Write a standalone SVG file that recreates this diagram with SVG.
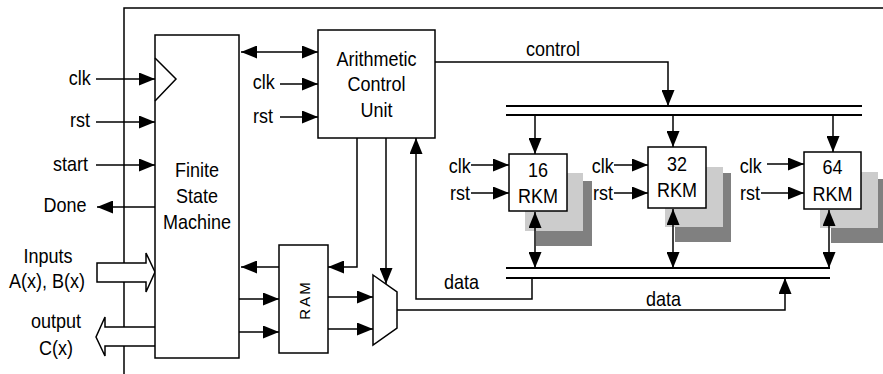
<svg xmlns="http://www.w3.org/2000/svg" width="883" height="374" viewBox="0 0 883 374">
<defs>
<style>
text{font-family:"Liberation Sans",Arial,sans-serif;font-size:20px;fill:#000}
text:not(.r){transform-box:fill-box;transform-origin:center;transform:scaleX(0.9)}
.box{fill:#fff;stroke:#000;stroke-width:1.5}
.ln{fill:none;stroke:#000;stroke-width:1.5}
.bus{fill:none;stroke:#000;stroke-width:2}
.a{marker-end:url(#ah)}
.aa{marker-end:url(#ah);marker-start:url(#ah)}
.m{text-anchor:middle}
.e{text-anchor:end}
.lt{fill:#cccccc}
.dk{fill:#808080}
</style>
<marker id="ah" markerUnits="userSpaceOnUse" markerWidth="16" markerHeight="13" refX="16" refY="6.5" orient="auto-start-reverse">
<path d="M0,0 L16,6.5 L0,13 z" fill="#000"/>
</marker>
</defs>
<rect width="883" height="374" fill="#fff"/>
<g id="frame">
<path class="ln" d="M124,374 V8 H883"/>
</g>
<g id="connectors">
<path class="ln a" d="M96,79 H155"/>
<path class="ln a" d="M96,122 H155"/>
<path class="ln a" d="M96,165 H155"/>
<path class="ln a" d="M155,207 H97"/>
<path class="box" d="M97,263 H146 V253 L155,272 L146,292 V282 H97 z"/>
<path class="box" d="M155,327 H105 V317 L96,337 L105,356 V346 H155"/>
<path class="ln aa" d="M241,52 H318"/>
<path class="ln a" d="M280,84 H318"/>
<path class="ln a" d="M280,117 H318"/>
<path class="ln a" d="M279,267 H241"/>
<path class="ln a" d="M239,299 H279"/>
<path class="ln a" d="M239,332 H279"/>
<path class="ln a" d="M357,138 V267 H328"/>
<path class="ln a" d="M386,138 V284"/>
<path class="ln a" d="M328,297 H373"/>
<path class="ln a" d="M328,329 H373"/>
<path class="ln a" d="M532,278 V299 H416 V138"/>
<path class="ln a" d="M397,310 H785 V278"/>
<path class="ln a" d="M435,62 H668 V106"/>
<path class="bus" d="M506,106 H862 M506,115 H862"/>
<path class="bus" d="M506,268 H830 M506,278 H830"/>
<path class="ln a" d="M535,115 V154"/>
<path class="ln a" d="M673,115 V147"/>
<path class="ln a" d="M833,115 V152"/>
<path class="ln a" d="M471,165 H509"/>
<path class="ln a" d="M471,193 H509"/>
<path class="ln a" d="M614,165 H648"/>
<path class="ln a" d="M614,193 H648"/>
<path class="ln a" d="M767,164 H804"/>
<path class="ln a" d="M761,193 H804"/>
</g>
<g id="fsm">
<rect class="box" x="155" y="35" width="84" height="323"/>
<path class="ln" d="M155,58 L176,79 L155,101"/>
<text class="m" x="197" y="177">Finite</text>
<text class="m" x="197" y="203">State</text>
<text class="m" x="197" y="229">Machine</text>
</g>
<g id="acu">
<rect class="box" x="318" y="30" width="117" height="108"/>
<text class="m" x="376.5" y="66">Arithmetic</text>
<text class="m" x="376.5" y="91">Control</text>
<text class="m" x="376.5" y="117">Unit</text>
</g>
<g id="ram">
<rect class="box" x="279" y="245" width="49" height="108"/>
<text class="m r" transform="translate(310,300) rotate(-90)" style="font-size:15px;letter-spacing:2px">RAM</text>
</g>
<g id="mux">
<path class="box" d="M373,275 L397,292 V328 L373,345 z"/>
</g>
<g id="rkm16">
<rect class="dk" x="536" y="181" width="56" height="65"/>
<rect class="lt" x="525" y="173" width="58" height="58"/>
<rect class="box" x="509" y="154" width="58" height="57"/>
<text class="m" x="538" y="177">16</text>
<text class="m" x="538" y="203">RKM</text>
</g>
<g id="rkm32">
<rect class="dk" x="675" y="173" width="56" height="69"/>
<rect class="lt" x="665" y="167" width="58" height="60"/>
<rect class="box" x="648" y="147" width="58" height="61"/>
<text class="m" x="677" y="171">32</text>
<text class="m" x="677" y="197">RKM</text>
</g>
<g id="rkm64">
<rect class="dk" x="831" y="179" width="56" height="64"/>
<rect class="lt" x="820" y="172" width="58" height="56"/>
<rect class="box" x="804" y="152" width="57" height="57"/>
<text class="m" x="832.5" y="174">64</text>
<text class="m" x="832.5" y="201">RKM</text>
</g>
<g id="rkmarrows">
<path class="ln aa" d="M535,212 V268"/>
<path class="ln aa" d="M673,209 V268"/>
<path class="ln aa" d="M829,210 V268"/>
</g>
<g id="labels">
<text class="e" x="92" y="85">clk</text>
<text class="e" x="91" y="127">rst</text>
<text class="e" x="90" y="171">start</text>
<text class="e" x="89" y="212">Done</text>
<text class="m" x="48" y="263">Inputs</text>
<text class="m" x="47" y="288">A(x), B(x)</text>
<text class="m" x="56" y="328">output</text>
<text class="m" x="56" y="355">C(x)</text>
<text class="e" x="276" y="89">clk</text>
<text class="e" x="274" y="123">rst</text>
<text x="523" y="56">control</text>
<text x="442" y="289">data</text>
<text x="644" y="306">data</text>
<text class="e" x="472" y="173">clk</text>
<text class="e" x="471" y="200">rst</text>
<text class="e" x="615" y="173">clk</text>
<text class="e" x="614" y="200">rst</text>
<text class="e" x="763" y="173">clk</text>
<text class="e" x="761" y="200">rst</text>
</g>
</svg>
